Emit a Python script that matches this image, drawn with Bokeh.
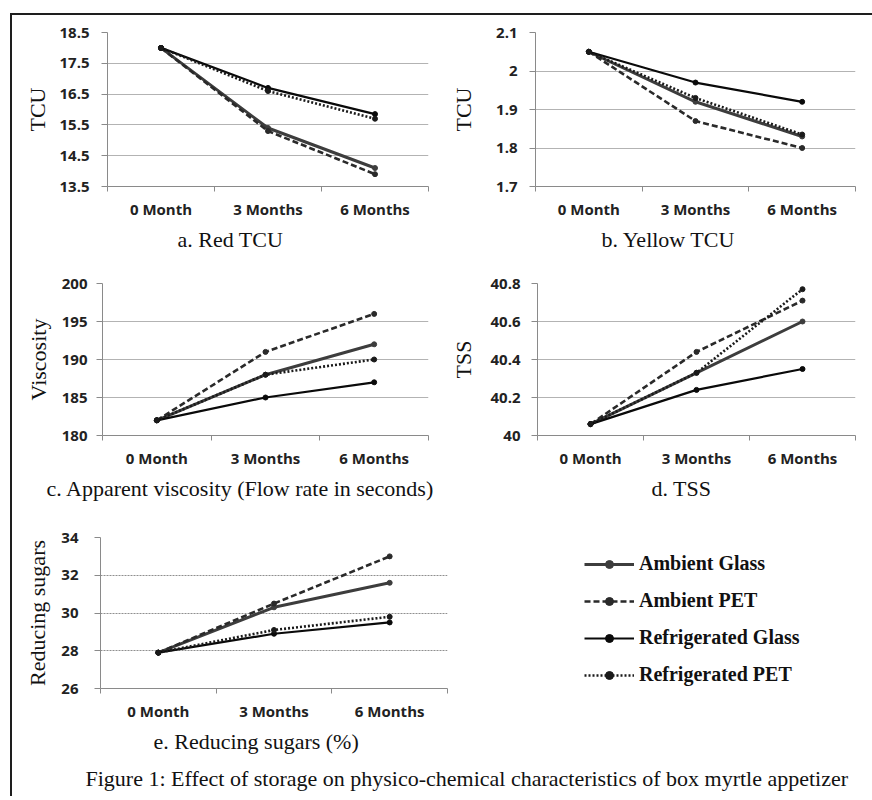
from bokeh.plotting import figure
from bokeh.models import (Range1d, FixedTicker, LinearAxis, Legend, LegendItem, Title,
                          ColumnDataSource)
from bokeh.layouts import row, column
from bokeh.embed import file_html
from bokeh.resources import INLINE

# ---------------- data ----------------
months = ["0 Month", "3 Months", "6 Months"]
series_names = ["Ambient Glass", "Ambient PET", "Refrigerated Glass", "Refrigerated PET"]

red_ambient_glass = [18.0, 15.4, 14.1]
red_ambient_pet = [18.0, 15.3, 13.9]
red_refrig_glass = [18.0, 16.7, 15.85]
red_refrig_pet = [18.0, 16.6, 15.7]
red_ticks = [13.5, 14.5, 15.5, 16.5, 17.5, 18.5]
red_tick_labels = ["13.5", "14.5", "15.5", "16.5", "17.5", "18.5"]

yellow_ambient_glass = [2.05, 1.92, 1.83]
yellow_ambient_pet = [2.05, 1.87, 1.80]
yellow_refrig_glass = [2.05, 1.97, 1.92]
yellow_refrig_pet = [2.05, 1.93, 1.835]
yellow_ticks = [1.7, 1.8, 1.9, 2, 2.1]
yellow_tick_labels = ["1.7", "1.8", "1.9", "2", "2.1"]

visc_ambient_glass = [182, 188, 192]
visc_ambient_pet = [182, 191, 196]
visc_refrig_glass = [182, 185, 187]
visc_refrig_pet = [182, 188, 190]
visc_ticks = [180, 185, 190, 195, 200]
visc_tick_labels = ["180", "185", "190", "195", "200"]

tss_ambient_glass = [40.06, 40.33, 40.60]
tss_ambient_pet = [40.06, 40.44, 40.71]
tss_refrig_glass = [40.06, 40.24, 40.35]
tss_refrig_pet = [40.06, 40.33, 40.77]
tss_ticks = [40, 40.2, 40.4, 40.6, 40.8]
tss_tick_labels = ["40", "40.2", "40.4", "40.6", "40.8"]

sugar_ambient_glass = [27.9, 30.3, 31.6]
sugar_ambient_pet = [27.9, 30.5, 33.0]
sugar_refrig_glass = [27.9, 28.9, 29.5]
sugar_refrig_pet = [27.9, 29.1, 29.8]
sugar_ticks = [26, 28, 30, 32, 34]
sugar_tick_labels = ["26", "28", "30", "32", "34"]

caption_text = "Figure 1: Effect of storage on physico-chemical characteristics of box myrtle appetizer"

# category slots: category i occupies [i, i+1] on the x scale, points sit at its centre
n_cat = len(months)
cat_centres = [i + 0.5 for i in range(n_cat)]
cat_bounds = list(range(n_cat + 1))

# ---------------- styles ----------------
STY = {
    "Ambient Glass": dict(color="#3d3d3d", width=3.0, dash="solid"),
    "Ambient PET": dict(color="#2a2a2a", width=2.6, dash="6 3"),
    "Refrigerated Glass": dict(color="#0a0a0a", width=2.2, dash="solid"),
    "Refrigerated PET": dict(color="#1a1a1a", width=2.6, dash="2 2"),
}
TICK_FONT = "Open Sans"
SERIF = "Liberation Serif"
AXIS_GRAY = "#8a8a8a"


def make_title(text, offset, standoff=7, size="22px"):
    return Title(text=text, align="left", offset=offset, standoff=standoff,
                 text_font=SERIF, text_font_size=size, text_font_style="normal",
                 text_color="#111111")


def make_panel(series, ticks, tick_labels, ylabel, title, fw, fh, left, right, top, bottom,
               title_offset, label_standoff, axis_label_standoff, dotted_grid=False):
    p = figure(x_range=Range1d(0, n_cat),
               y_range=Range1d(ticks[0], ticks[-1]),
               frame_width=fw, frame_height=fh,
               min_border_left=left, min_border_right=right,
               min_border_top=top, min_border_bottom=bottom,
               x_axis_location=None, title=None,
               output_backend="svg", toolbar_location=None,
               outline_line_color=None, background_fill_color="white",
               border_fill_color="white")
    p.xgrid.visible = False
    ticker = FixedTicker(ticks=ticks)
    ya = p.yaxis[0]
    ya.ticker = ticker
    ya.major_label_overrides = dict(zip(ticks, tick_labels))
    ya.axis_line_color = AXIS_GRAY
    ya.major_tick_line_color = AXIS_GRAY
    ya.major_tick_in = 0
    ya.major_tick_out = 6
    ya.minor_tick_line_color = None
    ya.major_label_standoff = label_standoff
    ya.major_label_text_font = TICK_FONT
    ya.major_label_text_font_size = "15px"
    ya.major_label_text_font_style = "bold"
    ya.major_label_text_color = "#222222"
    ya.axis_label = ylabel
    ya.axis_label_text_font = SERIF
    ya.axis_label_text_font_size = "22px"
    ya.axis_label_text_font_style = "normal"
    ya.axis_label_text_color = "#111111"
    ya.axis_label_standoff = axis_label_standoff

    p.ygrid.ticker = ticker
    p.ygrid.grid_line_color = "#b3b3b3"
    p.ygrid.grid_line_width = 1
    if dotted_grid:
        p.ygrid.grid_line_dash = "2 1"
        p.ygrid.grid_line_color = "#8f8f8f"

    # Excel-style: tick marks between categories, labels at category centres
    tick_ax = LinearAxis(ticker=FixedTicker(ticks=cat_bounds),
                         major_label_overrides={b: "" for b in cat_bounds},
                         major_label_text_font_size="0px", major_label_standoff=0,
                         axis_line_color=AXIS_GRAY, major_tick_line_color=AXIS_GRAY,
                         major_tick_in=0, major_tick_out=5, minor_tick_line_color=None)
    p.add_layout(tick_ax, "below")
    lab_ax = LinearAxis(ticker=FixedTicker(ticks=cat_centres),
                        major_label_overrides=dict(zip(cat_centres, months)),
                        axis_line_color=None, major_tick_line_color=None,
                        minor_tick_line_color=None,
                        major_tick_in=0, major_tick_out=0, major_label_standoff=7,
                        major_label_text_font=TICK_FONT,
                        major_label_text_font_size="15px",
                        major_label_text_font_style="bold",
                        major_label_text_color="#222222")
    p.add_layout(lab_ax, "below")
    p.add_layout(make_title(title, title_offset), "below")

    rends = {}
    for name in series_names:
        s = STY[name]
        src = ColumnDataSource(dict(x=cat_centres, y=series[name], month=months))
        lr = p.line("x", "y", source=src, line_color=s["color"], line_width=s["width"],
                    line_dash=s["dash"])
        sr = p.scatter("x", "y", source=src, marker="circle", size=5,
                       fill_color=s["color"], line_color=s["color"])
        rends[name] = [lr, sr]
    return p, rends


pa, _ = make_panel({"Ambient Glass": red_ambient_glass, "Ambient PET": red_ambient_pet,
                    "Refrigerated Glass": red_refrig_glass, "Refrigerated PET": red_refrig_pet},
                   red_ticks, red_tick_labels, "TCU", "a. Red TCU",
                   fw=321, fh=154, left=95, right=7, top=17, bottom=76,
                   title_offset=70, label_standoff=12, axis_label_standoff=6)

pb, _ = make_panel({"Ambient Glass": yellow_ambient_glass, "Ambient PET": yellow_ambient_pet,
                    "Refrigerated Glass": yellow_refrig_glass, "Refrigerated PET": yellow_refrig_pet},
                   yellow_ticks, yellow_tick_labels, "TCU", "b. Yellow TCU",
                   fw=320, fh=154, left=100, right=5, top=17, bottom=76,
                   title_offset=66, label_standoff=12, axis_label_standoff=17)

pc, _ = make_panel({"Ambient Glass": visc_ambient_glass, "Ambient PET": visc_ambient_pet,
                    "Refrigerated Glass": visc_refrig_glass, "Refrigerated PET": visc_refrig_pet},
                   visc_ticks, visc_tick_labels, "Viscosity",
                   "c. Apparent viscosity (Flow rate in seconds)",
                   fw=326, fh=152, left=90, right=7, top=20, bottom=81,
                   title_offset=-56, label_standoff=9, axis_label_standoff=8)

pd_, _ = make_panel({"Ambient Glass": tss_ambient_glass, "Ambient PET": tss_ambient_pet,
                     "Refrigerated Glass": tss_refrig_glass, "Refrigerated PET": tss_refrig_pet},
                    tss_ticks, tss_tick_labels, "TSS", "d. TSS",
                    fw=318, fh=152, left=102, right=5, top=21, bottom=80,
                    title_offset=114, label_standoff=11, axis_label_standoff=11)

pe, rends_e = make_panel({"Ambient Glass": sugar_ambient_glass, "Ambient PET": sugar_ambient_pet,
                          "Refrigerated Glass": sugar_refrig_glass, "Refrigerated PET": sugar_refrig_pet},
                         sugar_ticks, sugar_tick_labels, "Reducing sugars", "e. Reducing sugars (%)",
                         fw=347, fh=151, left=88, right=413, top=22, bottom=104,
                         title_offset=53, label_standoff=16, axis_label_standoff=8,
                         dotted_grid=True)
pe.add_layout(make_title(caption_text, -15, standoff=12), "below")

legend = Legend(items=[LegendItem(label=n, renderers=rends_e[n]) for n in series_names],
                location=(137, 2), glyph_width=50, glyph_height=20, label_height=20,
                spacing=14, label_standoff=5, padding=0, margin=0,
                border_line_color=None, background_fill_alpha=0,
                label_text_font=SERIF, label_text_font_size="20px",
                label_text_font_style="bold", label_text_color="#111111")
pe.add_layout(legend, "right")

# whole figure sits in a page frame: black rule on its left and top edges
page = column(row(pa, pb), row(pc, pd_), pe,
              styles={"border-left": "2px solid #1e1e1e", "border-top": "2px solid #1e1e1e",
                      "margin-left": "10px", "margin-top": "13px", "min-height": "772px"})

open("out.html", "w").write(file_html(page, INLINE))
